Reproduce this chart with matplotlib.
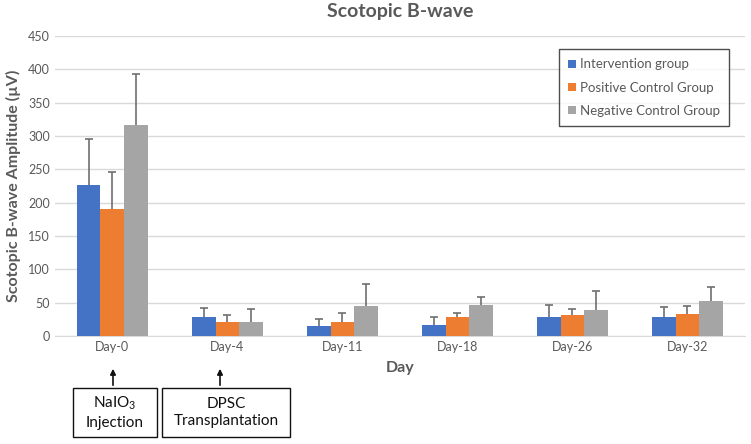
import numpy as np
import matplotlib
matplotlib.use("Agg")
import matplotlib.pyplot as plt
from matplotlib.patches import Rectangle

days = ["Day-0", "Day-4", "Day-11", "Day-18", "Day-26", "Day-32"]
groups = ["Intervention group", "Positive Control Group", "Negative Control Group"]
intervention = [226, 28, 15, 17, 29, 29]
intervention_err = [70, 14, 11, 11, 17, 14]
positive = [190, 21, 21, 28, 31, 33]
positive_err = [56, 11, 13, 7, 9, 12]
negative = [317, 21, 45, 47, 39, 52]
negative_err = [76, 19, 33, 11, 28, 21]

COLORS = ["#4472C4", "#ED7D31", "#A5A5A5"]
TXT = "#595959"
plt.rcParams.update({"font.family": ["Lato", "DejaVu Sans"], "mathtext.fontset": "custom",
                     "mathtext.rm": "Lato", "mathtext.it": "Lato"})

fig = plt.figure(figsize=(7.51, 4.44), dpi=100)
ax = fig.add_axes([0.073, 0.243, 0.919, 0.676])

x = np.arange(len(days))
w = 0.206
series = [(intervention, intervention_err), (positive, positive_err), (negative, negative_err)]
for i, ((vals, errs), c, lbl) in enumerate(zip(series, COLORS, groups)):
    xs = x + (i - 1) * w
    vals, errs = np.array(vals), np.array(errs)
    ax.bar(xs, vals, w, color=c, label=lbl, zorder=3)
    # upper-only error bars, cap only at top
    ax.vlines(xs, vals, vals + errs, color="#6f6f6f", lw=1.2, zorder=4)
    ax.plot(xs, vals + errs, ls="none", marker="_", ms=6, mew=1.2, color="#6f6f6f", zorder=4)

ax.set_xlim(-0.5, len(days) - 0.5)
ax.set_ylim(0, 450)
ax.set_yticks(range(0, 451, 50))
ax.set_xticks(x)
ax.set_xticklabels(days)
ax.tick_params(colors=TXT, labelsize=9, length=0)
ax.grid(axis="y", color="#d9d9d9", lw=1, zorder=0)
for s in ["top", "right", "left"]:
    ax.spines[s].set_visible(False)
ax.spines["bottom"].set_color("#d9d9d9")
ax.set_xlabel("Day", fontsize=11.5, fontweight="bold", color=TXT, labelpad=6)
ax.set_ylabel("Scotopic B-wave Amplitude (\u00b5V)", fontsize=11.5, fontweight="bold", color=TXT, labelpad=5)
ax.set_title("Scotopic B-wave", fontsize=14, fontweight="bold", color=TXT, pad=14)

leg = ax.legend(loc="upper right", bbox_to_anchor=(0.987, 0.978), fontsize=9.5, frameon=True,
                fancybox=False, handlelength=0.6, handleheight=0.6, handletextpad=0.3,
                labelspacing=0.85, borderpad=0.7)
leg.get_frame().set_edgecolor("#222222")
leg.get_frame().set_linewidth(1.0)
for t in leg.get_texts():
    t.set_color(TXT)

# annotation boxes below the axis
W, H = 751, 444
def fx(px): return px / W
def fy(py): return 1 - py / H

boxes = [(73, 157, 113, "NaIO$_3$\nInjection"), (162, 290, 220, "DPSC\nTransplantation")]
for x0, x1, ax_x, label in boxes:
    fig.patches.append(Rectangle((fx(x0), fy(437)), fx(x1) - fx(x0), fy(388) - fy(437),
                                 transform=fig.transFigure, fill=False, ec="#111111", lw=1.0))
    fig.text(fx((x0 + x1) / 2), fy(412.5), label, ha="center", va="center", fontsize=11,
             color="#111111", linespacing=1.35)
    ax.annotate("", xy=(fx(ax_x), fy(366)), xycoords="figure fraction",
                xytext=(fx(ax_x), fy(388)), textcoords="figure fraction",
                arrowprops=dict(arrowstyle="-|>", color="#111111", lw=1.2, mutation_scale=8))

fig.savefig("out.png", dpi=100)
